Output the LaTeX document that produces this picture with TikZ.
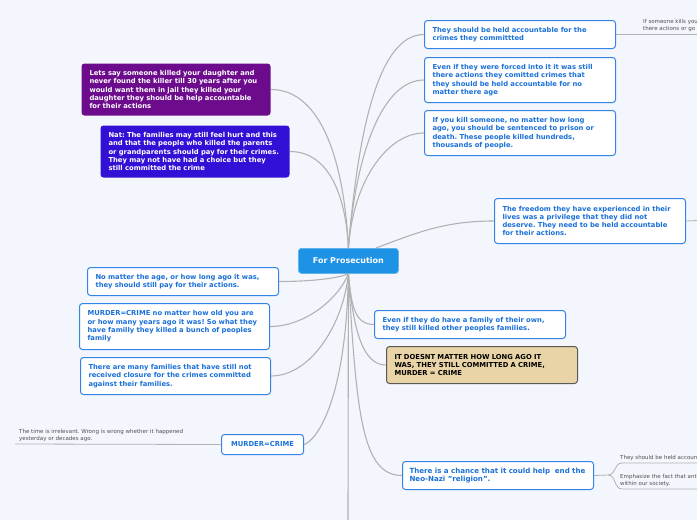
\documentclass[tikz,border=0pt]{standalone}
\usepackage{fontspec}
\setmainfont{DejaVu Sans}
\frenchspacing
\definecolor{bgcol}{RGB}{243,246,253}
\definecolor{boxblue}{RGB}{52,132,232}
\definecolor{txtblue}{RGB}{26,112,216}
\definecolor{centerblue}{RGB}{30,146,228}
\definecolor{linkgray}{RGB}{178,178,178}
\definecolor{purp}{RGB}{108,12,140}
\definecolor{violet2}{RGB}{52,16,214}
\definecolor{tan}{RGB}{232,212,166}
\definecolor{tanborder}{RGB}{88,88,88}
\definecolor{leafgray}{RGB}{80,80,80}
\begin{document}
\begin{tikzpicture}[x=1pt,y=-1pt,
  box/.style={draw=boxblue, line width=1pt, fill=white, rounded corners=3pt,
    anchor=north west, inner xsep=8pt, inner ysep=2pt, align=left,
    text=txtblue, font=\fontsize{6.8}{8.3}\selectfont\bfseries, text width=175pt},
  darkbox/.style={box, draw=none, text=white},
  link/.style={draw=linkgray, line width=1.1pt},
  leaf/.style={anchor=south west, inner sep=0pt, align=left, text=leafgray,
    font=\fontsize{5.5}{7}\selectfont}
]
\useasboundingbox (0,0) rectangle (697,520);
\fill[bgcol] (0,0) rectangle (697,520);

% centre
\node[draw=centerblue!70!white, line width=0.8pt, fill=centerblue, rounded corners=3pt,
  minimum width=100pt, minimum height=25pt, anchor=north west, text=white,
  font=\fontsize{8}{10}\selectfont\bfseries] (C) at (298,248) {For Prosecution};
\coordinate (cr) at (376,248);
\coordinate (bot) at (348,520);

% right side
\node[box, minimum height=28pt] (A) at (424,20) {They should be held accountable for the\\crimes they committted};
\node[box, minimum height=45pt] (B) at (424,57) {Even if they were forced into it it was still\\there actions they comitted crimes that\\they should be held accountable for no\\matter there age};
\node[box, minimum height=45pt] (Cc) at (424,110) {If you kill someone, no matter how long\\ago, you should be sentenced to prison or\\death. These people killed hundreds,\\thousands of people.};
\node[box, minimum height=45pt] (D) at (494,198) {The freedom they have experienced in their\\lives was a privilege that they did not\\deserve. They need to be held accountable\\for their actions.};
\node[box, minimum height=28pt] (E) at (374,310) {Even if they do have a family of their own,\\they still killed other peoples families.};
\node[box, draw=tanborder, fill=tan, text=black, minimum height=37pt] (F) at (386,346) {IT DOESNT MATTER HOW LONG AGO IT\\WAS, THEY STILL COMMITTED A CRIME,\\MURDER = CRIME};
\node[box, minimum height=28pt, font=\fontsize{7.1}{8.6}\selectfont\bfseries, inner xsep=7pt, text width=177pt] (G) at (402,461) {There is a chance that it could help\ \ end the\\Neo-Nazi "religion".};

% left side
\node[darkbox, fill=purp, minimum height=52pt, text width=173pt] (P1) at (81,63) {Lets say someone killed your daughter and\\never found the killer till 30 years after you\\would want them in jail they killed your\\daughter they should be help accountable\\for their actions};
\node[darkbox, fill=violet2, minimum height=52pt, text width=173pt] (P2) at (100,125) {Nat: The families may still feel hurt and this\\and that the people who killed the parents\\or grandparents should pay for their crimes.\\They may not have had a choice but they\\still committed the crime};
\node[box, minimum height=28pt] (L1) at (87,267) {No matter the age, or how long ago it was,\\they should still pay for their actions.};
\node[box, minimum height=46pt, text width=174pt] (L2) at (79,303) {MURDER=CRIME no matter how old you are\\or how many years ago it was! So what they\\have familly they killed a bunch of peoples\\family};
\node[box, minimum height=37pt, text width=174pt] (L3) at (80,357) {There are many families that have still not\\received closure for the crimes committed\\against their families.};
\node[box, minimum height=20pt, text width=66pt, align=center] (M) at (221,434) {MURDER=CRIME};

% connectors from centre
\draw[link] (C.north) .. controls +(10,-120) and +(-45,0) .. (A.west);
\draw[link] (C.north) .. controls +(8,-100) and +(-40,0) .. (B.west);
\draw[link] (C.north) .. controls +(5,-70) and +(-35,0) .. (Cc.west);
\draw[link] (cr) .. controls +(40,-15) and +(-50,0) .. (D.west);
\draw[link] (C.north) .. controls +(-5,-100) and +(45,0) .. (P1.east);
\draw[link] (C.north) .. controls +(-3,-60) and +(35,0) .. (P2.east);
\draw[link] (C.south) .. controls +(-12,5) and +(30,0) .. (L1.east);
\draw[link] (C.south) .. controls +(-10,25) and +(35,0) .. (L2.east);
\draw[link] (C.south) .. controls +(-5,50) and +(40,0) .. (L3.east);
\draw[link] (C.south) .. controls +(-2,120) and +(15,-5) .. (M.east);
\draw[link] (C.south) .. controls +(3,35) and +(-18,0) .. (E.west);
\draw[link] (C.south) .. controls +(5,60) and +(-22,0) .. (F.west);
\draw[link] (C.south) .. controls +(8,140) and +(-40,0) .. (G.west);
\draw[link] (C.south) -- (bot);

% leaves
\coordinate (a1) at (697,34.5);
\draw[link, line width=0.8pt] (A.east) -- (a1);
\node[leaf] (la) at (643,32) {If someone kills you\\there actions or go};

\coordinate (d1) at (697,220.5);
\draw[link, line width=0.8pt] (D.east) -- (d1);

\coordinate (m1) at (15,444);
\draw[link, line width=0.8pt] (M.west) -- (m1);
\node[leaf] (lm) at (19,442) {The time is irrelevant. Wrong is wrong whether it happened\\yesterday or decades ago.};

\coordinate (g0) at (608,475);
\coordinate (g1) at (622,463);
\coordinate (g1e) at (697,463);
\coordinate (g2) at (622,489);
\coordinate (g2e) at (697,489);
\draw[link, line width=0.8pt] (G.east) -- (g0) .. controls +(8,0) and +(-8,0) .. (g1) -- (g1e);
\draw[link, line width=0.8pt] (g0) .. controls +(8,0) and +(-8,0) .. (g2) -- (g2e);
\node[leaf] (lg1) at (620,461) {They should be held accoun};
\node[leaf] (lg2) at (620,487) {Emphasize the fact that ant\\within our society.};
\end{tikzpicture}
\end{document}
